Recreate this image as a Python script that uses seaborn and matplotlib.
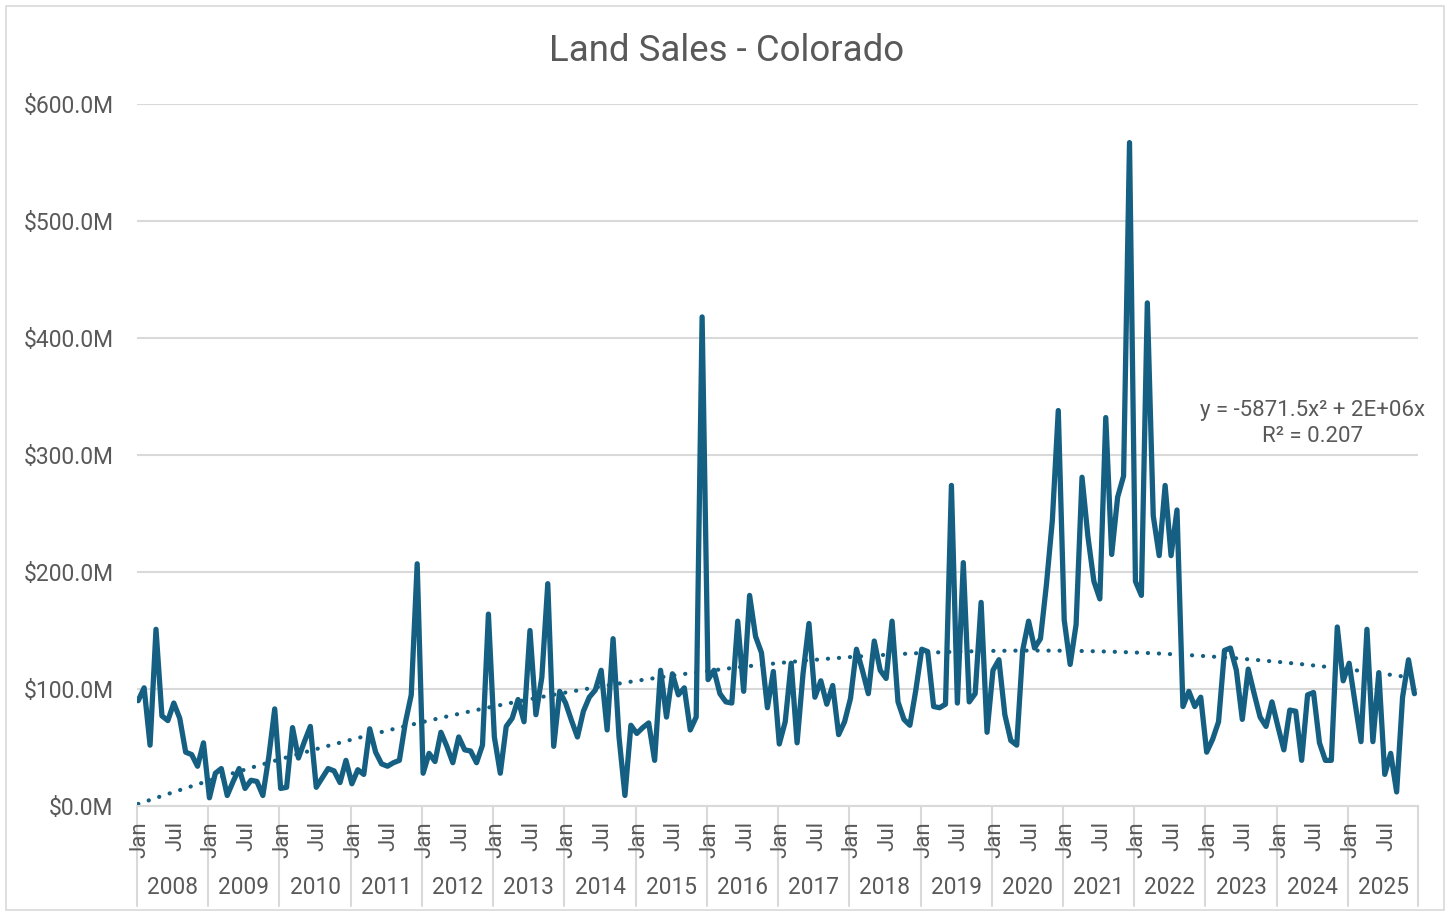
import numpy as np
import pandas as pd
import seaborn as sns
import matplotlib.pyplot as plt
import matplotlib.transforms as mtransforms
from matplotlib.patches import Rectangle

sns.set_style("white")
plt.rcParams["font.family"] = ["Roboto", "DejaVu Sans"]

LINE = "#156082"
GRID = "#D9D9D9"
TEXT = "#595959"

years = list(range(2008, 2026))
tick_months = {0: "Jan", 6: "Jul"}

# monthly land sales, $M, Jan 2008 .. Dec 2025
sales_2008 = [90, 101, 52, 151, 77, 73, 88, 75, 46, 44, 34, 54]
sales_2009 = [7, 28, 32, 9, 21, 32, 15, 22, 21, 9, 42, 83]
sales_2010 = [15, 16, 67, 41, 55, 68, 16, 24, 32, 30, 20, 39]
sales_2011 = [19, 31, 27, 66, 46, 36, 34, 37, 39, 71, 95, 207]
sales_2012 = [28, 45, 38, 63, 51, 37, 59, 48, 47, 37, 52, 164]
sales_2013 = [59, 28, 68, 75, 91, 72, 150, 78, 110, 190, 51, 98]
sales_2014 = [88, 73, 59, 81, 93, 99, 116, 65, 143, 59, 9, 69]
sales_2015 = [62, 67, 71, 39, 116, 76, 113, 95, 101, 65, 76, 418]
sales_2016 = [108, 116, 96, 89, 88, 158, 98, 180, 145, 131, 84, 115]
sales_2017 = [53, 72, 122, 54, 113, 156, 93, 107, 87, 103, 61, 72]
sales_2018 = [92, 134, 116, 96, 141, 116, 109, 158, 89, 74, 69, 99]
sales_2019 = [134, 132, 85, 84, 87, 274, 88, 208, 89, 96, 174, 63]
sales_2020 = [116, 125, 78, 56, 52, 133, 158, 135, 143, 189, 244, 338]
sales_2021 = [159, 121, 155, 281, 230, 192, 177, 332, 215, 264, 282, 567]
sales_2022 = [192, 180, 430, 248, 214, 274, 214, 253, 85, 98, 85, 93]
sales_2023 = [46, 57, 72, 133, 135, 116, 74, 117, 96, 76, 68, 89]
sales_2024 = [68, 48, 82, 81, 39, 95, 97, 54, 39, 39, 153, 107]
sales_2025 = [122, 88, 55, 151, 55, 114, 27, 45, 12, 93, 125, 96]

sales_m = (sales_2008 + sales_2009 + sales_2010 + sales_2011 + sales_2012
           + sales_2013 + sales_2014 + sales_2015 + sales_2016 + sales_2017
           + sales_2018 + sales_2019 + sales_2020 + sales_2021 + sales_2022
           + sales_2023 + sales_2024 + sales_2025)

df = pd.DataFrame({"idx": np.arange(len(sales_m)),
                   "sales": np.array(sales_m, dtype=float) * 1e6})

# Excel-style polynomial (order 2) trendline, intercept fixed at 0
xs = df["idx"].to_numpy() + 1.0
A = np.column_stack([xs ** 2, xs])
coef, *_ = np.linalg.lstsq(A, df["sales"].to_numpy(), rcond=None)
df["trend"] = A @ coef

W, H = 1450, 915
fig = plt.figure(figsize=(W / 100, H / 100), dpi=100)
ax = fig.add_axes([137 / W, (H - 806) / H, 1281 / W, 702 / H])

sns.lineplot(data=df, x="idx", y="sales", color=LINE, lw=3.8, ax=ax,
             solid_joinstyle="round", solid_capstyle="round", zorder=3)
sns.lineplot(data=df, x="idx", y="trend", color=LINE, lw=3.0, ax=ax,
             linestyle=(0, (0.05, 2.6)), dash_capstyle="round", zorder=2)

ax.set_xlim(-0.2, 215.6)
ax.set_ylim(0, 600e6)
yt = np.arange(0, 601e6, 100e6)
ax.set_yticks(yt)
ax.set_yticklabels([f"${v / 1e6:.1f}M" for v in yt])
ax.tick_params(axis="y", length=0, pad=17, labelsize=16.5, labelcolor=TEXT)
ax.set_xticks([])
ax.set_xlabel("")
ax.set_ylabel("")
ax.grid(axis="y", color=GRID, lw=1.5)
ax.grid(axis="x", visible=False)
for s in ["left", "top", "right"]:
    ax.spines[s].set_visible(False)
ax.spines["bottom"].set_color(GRID)
ax.spines["bottom"].set_linewidth(1.5)

# two-level category axis
trans = mtransforms.blended_transform_factory(ax.transData, ax.transAxes)
bottom = -(906 - 806) / 702
for k, yr in enumerate(years):
    for m, name in tick_months.items():
        ax.text(12 * k + m + 0.3, -(821 - 806) / 702, name, rotation=90,
                ha="center", va="top", fontsize=16, color=TEXT,
                transform=trans)
    ax.text(12 * k + 5.8, -(888 - 806) / 702, str(yr), ha="center",
            va="center", fontsize=16.3, color=TEXT, transform=trans)
for b in [12 * k - 0.2 for k in range(len(years))] + [215.6]:
    ax.plot([b, b], [0, bottom], color=GRID, lw=1.5, transform=trans,
            clip_on=False)

fig.text(727 / W, 1 - 51 / H, "Land Sales - Colorado", ha="center",
         va="center", fontsize=26.4, color=TEXT)
fig.text(1313 / W, 1 - 410 / H, "y = -5871.5x\u00b2 + 2E+06x", ha="center",
         va="center", fontsize=16, color=TEXT)
fig.text(1313 / W, 1 - 437 / H, "R\u00b2 = 0.207", ha="center",
         va="center", fontsize=16, color=TEXT)

fig.patches.append(Rectangle((6 / W, 5 / H), 1438 / W, 904 / H,
                             transform=fig.transFigure, fill=False,
                             ec=GRID, lw=1.2))

fig.savefig("out.png", dpi=100, facecolor="white")
